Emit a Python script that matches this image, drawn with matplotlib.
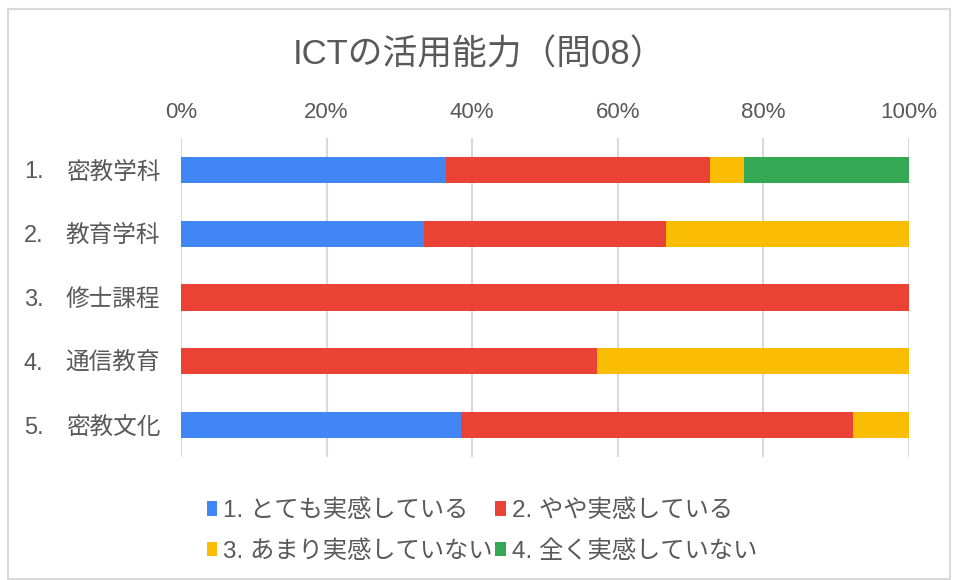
import matplotlib
matplotlib.use("Agg")
import matplotlib.pyplot as plt
from matplotlib.patches import Rectangle
from matplotlib.transforms import blended_transform_factory
import numpy as np

plt.rcParams["font.family"] = ["Liberation Sans", "Noto Sans CJK JP", "DejaVu Sans"]

TITLE = "ICTの活用能力（問08）"
numbers = ["1.", "2.", "3.", "4.", "5."]
groups = ["密教学科", "教育学科", "修士課程", "通信教育", "密教文化"]
answers = [
    "1. とても実感している",
    "2. やや実感している",
    "3. あまり実感していない",
    "4. 全く実感していない",
]
# response counts per group, one list per answer
very = [8, 1, 0, 0, 5]
somewhat = [8, 1, 1, 4, 7]
not_much = [1, 1, 0, 3, 1]
not_at_all = [5, 0, 0, 0, 0]
colors = ["#4285F4", "#EA4335", "#FBBC04", "#34A853"]
xticks = [0, 20, 40, 60, 80, 100]
GREY = "#595959"

counts = np.array([very, somewhat, not_much, not_at_all], dtype=float)
pct = counts / counts.sum(axis=0) * 100

fig = plt.figure(figsize=(9.58, 5.8), dpi=100)
fig.patches.append(Rectangle((8 / 958, 0.002), 942 / 958, 1 - 10 / 580,
                             transform=fig.transFigure, fill=False,
                             edgecolor="#d9d9d9", linewidth=1.5))
ax = fig.add_axes([181 / 958, 1 - 457 / 580, 728 / 958, 319 / 580])

y = np.arange(len(groups))
left = np.zeros(len(groups))
for vals, label, color in zip(pct, answers, colors):
    ax.barh(y, vals, left=left, height=0.41, color=color, label=label, zorder=3)
    left += vals

ax.set_xlim(0, 100)
ax.set_ylim(len(groups) - 0.5, -0.5)
ax.set_xticks(xticks)
ax.set_xticklabels([f"{t}%" for t in xticks])
ax.xaxis.tick_top()
ax.tick_params(axis="x", length=0, pad=11, labelsize=16, labelcolor=GREY)
ax.set_yticks(y)
ax.set_yticklabels(groups, va="center_baseline")
ax.tick_params(axis="y", length=0, pad=15, labelsize=17, labelcolor=GREY)
trans = blended_transform_factory(fig.transFigure, ax.transData)
for n, yy in zip(numbers, y):
    ax.text(24 / 958, yy, n, transform=trans, ha="left", va="center_baseline",
            fontsize=17, color=GREY)
ax.grid(axis="x", color="#d9d9d9", linewidth=1.5, zorder=0)
for s in ax.spines.values():
    s.set_visible(False)

fig.text(0.5, 1 - 55 / 580, TITLE, ha="center", va="center", fontsize=25, color=GREY)

handles, labels = ax.get_legend_handles_labels()
order = [0, 2, 1, 3]  # fill row by row
fig.legend([handles[i] for i in order], [labels[i] for i in order], ncol=2,
           loc="upper left", bbox_to_anchor=(195 / 958, 1 - 487 / 580),
           frameon=False, fontsize=17.5, handlelength=0.42, handleheight=0.55,
           handletextpad=0.25, columnspacing=0.1, labelspacing=0.75,
           borderpad=0, labelcolor=GREY)

fig.savefig("out.png", dpi=100)
